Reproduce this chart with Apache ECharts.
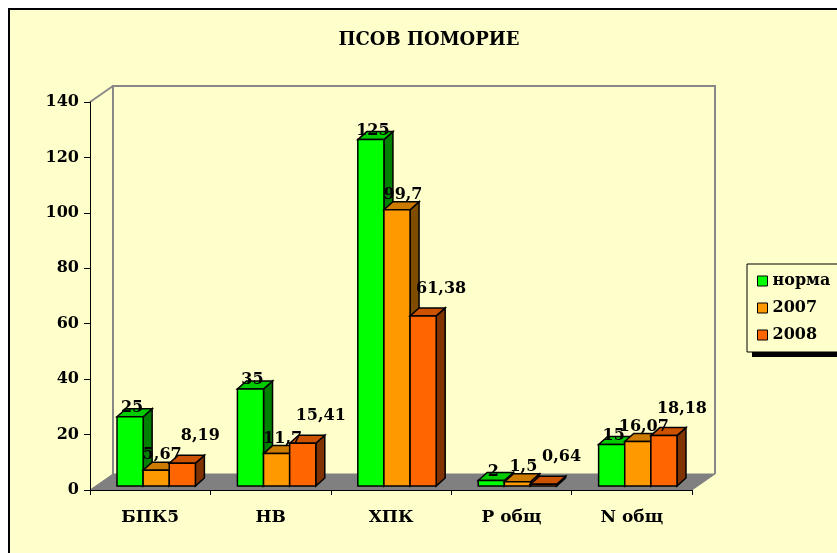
<!DOCTYPE html>
<html>
<head>
<meta charset="utf-8">
<script src="https://cdn.jsdelivr.net/npm/echarts@6/dist/echarts.min.js"></script>
<style>
  html, body { margin: 0; padding: 0; background: #fff; }
  #chart-container { width: 837px; height: 553px; }
</style>
</head>
<body>
<div id="chart-container"></div>
<script>
var dom = document.getElementById('chart-container');
var myChart = echarts.init(dom, null, { renderer: 'canvas' });

// data
const categories = ['БПК5', 'НВ', 'ХПК', 'Р общ', 'N общ'];
const seriesNames = ['норма', '2007', '2008'];
const normValues = [25, 35, 125, 2, 15];
const values2007 = [5.67, 11.7, 99.7, 1.5, 16.07];
const values2008 = [8.19, 15.41, 61.38, 0.64, 18.18];
const yMin = 0, yMax = 140, yStep = 20;

const FONT = '"DejaVu Serif", "Liberation Serif", serif';
const WALL_DX = 23, WALL_DY = 16;   // depth of the 3d box
const BAR_DX = 9, BAR_DY = 8;       // depth of a column
const SHIFT_X = 6, SHIFT_Y = 4;     // columns sit a bit inside the box
const BAR_FRAC = 0.217;             // column width / category width

// front, top, side colours and label offset per series
const looks = [
    { front: '#00FF00', top: '#00CC00', side: '#008000', lx: 2, ly: -9 },
    { front: '#FF9900', top: '#CC7A00', side: '#804C00', lx: 6, ly: -15 },
    { front: '#FF6600', top: '#CC5200', side: '#803300', lx: 18, ly: -27 }
];

function fmt(v) {
    return String(v).replace('.', ',');
}

function wallsRender(params, api) {
    if (params.dataIndex !== 0) return;
    const band = api.size([1, 0])[0];
    const x0 = api.coord([0, yMin])[0] - band / 2;
    const x1 = api.coord([categories.length - 1, yMin])[0] + band / 2;
    const y0 = api.coord([0, yMin])[1];
    const yT = api.coord([0, yMax])[1];
    const line = { stroke: '#888', lineWidth: 2, fill: null };
    return {
        type: 'group',
        children: [
            { type: 'polygon', shape: { points: [[x0, y0], [x1, y0], [x1 + WALL_DX, y0 - WALL_DY], [x0 + WALL_DX, y0 - WALL_DY]] },
              style: { fill: '#808080', stroke: '#808080' } },
            { type: 'polyline', shape: { points: [[x0 + WALL_DX, y0 - WALL_DY], [x0 + WALL_DX, yT - WALL_DY], [x1 + WALL_DX, yT - WALL_DY], [x1 + WALL_DX, y0 - WALL_DY]] },
              style: line },
            { type: 'line', shape: { x1: x0, y1: yT, x2: x0 + WALL_DX, y2: yT - WALL_DY }, style: line }
        ]
    };
}

function barRender(k) {
    const c = looks[k];
    return function (params, api) {
        const cat = api.value(0), val = api.value(1);
        const base = api.coord([cat, 0]);
        const top = api.coord([cat, val]);
        const band = api.size([1, 0])[0];
        const w = band * BAR_FRAC;
        const x = base[0] - 1.5 * w + k * w + SHIFT_X;
        const y0 = base[1] - SHIFT_Y;
        const y1 = top[1] - SHIFT_Y;
        const edge = { stroke: '#000', lineWidth: 1.5 };
        return {
            type: 'group',
            children: [
                { type: 'polygon', shape: { points: [[x + w, y1], [x + w + BAR_DX, y1 - BAR_DY], [x + w + BAR_DX, y0 - BAR_DY], [x + w, y0]] },
                  style: Object.assign({ fill: c.side }, edge) },
                { type: 'polygon', shape: { points: [[x, y1], [x + w, y1], [x + w + BAR_DX, y1 - BAR_DY], [x + BAR_DX, y1 - BAR_DY]] },
                  style: Object.assign({ fill: c.top }, edge) },
                { type: 'rect', shape: { x: x, y: y1, width: w, height: y0 - y1 },
                  style: Object.assign({ fill: c.front }, edge) },
                { type: 'text', z2: 100,
                  style: { text: fmt(val), x: x + w / 2 + c.lx, y: y1 + c.ly, fill: '#000',
                           fontSize: 16, fontWeight: 'bold', fontFamily: FONT,
                           align: 'center', verticalAlign: 'middle' } }
            ]
        };
    };
}

const seriesData = [normValues, values2007, values2008];

var option = {
    backgroundColor: '#fff',
    animation: false,
    graphic: {
        elements: [
            { type: 'rect', z: -10, left: 8, top: 8, shape: { width: 900, height: 700 },
              style: { fill: '#FFFFCC', stroke: '#000', lineWidth: 2 } },
            // legend drop shadow
            { type: 'rect', z: -5, left: 752, top: 352, shape: { width: 100, height: 5 },
              style: { fill: '#000' } }
        ]
    },
    title: {
        text: 'ПСОВ ПОМОРИЕ',
        left: 424,
        top: 26,
        textAlign: 'center',
        textStyle: { fontFamily: FONT, fontWeight: 'bold', fontSize: 18, color: '#000' }
    },
    legend: {
        orient: 'vertical',
        left: 747,
        top: 264,
        padding: [9, 14, 9, 10],
        itemGap: 11,
        itemWidth: 10,
        itemHeight: 10,
        icon: 'rect',
        backgroundColor: '#FFFFCC',
        borderColor: '#000',
        borderWidth: 1,
        itemStyle: { borderColor: '#000', borderWidth: 1 },
        textStyle: { fontFamily: FONT, fontWeight: 'bold', fontSize: 16, color: '#000', lineHeight: 16 },
        data: seriesNames
    },
    grid: { left: 90, right: 145, top: 102, bottom: 63 },
    xAxis: {
        type: 'category',
        data: categories,
        z: 10,
        axisLine: { lineStyle: { color: '#000', width: 1 } },
        axisTick: { show: true, length: 5, lineStyle: { color: '#000' } },
        axisLabel: { color: '#000', fontFamily: FONT, fontWeight: 'bold', fontSize: 17, margin: 19 }
    },
    yAxis: {
        type: 'value',
        min: yMin,
        max: yMax,
        interval: yStep,
        z: 10,
        splitLine: { show: false },
        axisLine: { show: true, lineStyle: { color: '#000', width: 1 } },
        axisTick: { show: true, length: 6, lineStyle: { color: '#000' } },
        axisLabel: { color: '#000', fontFamily: FONT, fontWeight: 'bold', fontSize: 16, margin: 11 }
    },
    series: [
        {
            type: 'custom',
            name: 'walls',
            z: 1,
            silent: true,
            renderItem: wallsRender,
            data: [[0, 0]]
        }
    ].concat(seriesNames.map(function (name, k) {
        return {
            type: 'custom',
            name: name,
            z: 2,
            itemStyle: { color: looks[k].front },
            renderItem: barRender(k),
            encode: { x: 0, y: 1 },
            data: seriesData[k].map(function (v, i) { return [i, v]; })
        };
    }))
};

myChart.setOption(option);
window.addEventListener('resize', myChart.resize);
</script>
</body>
</html>
